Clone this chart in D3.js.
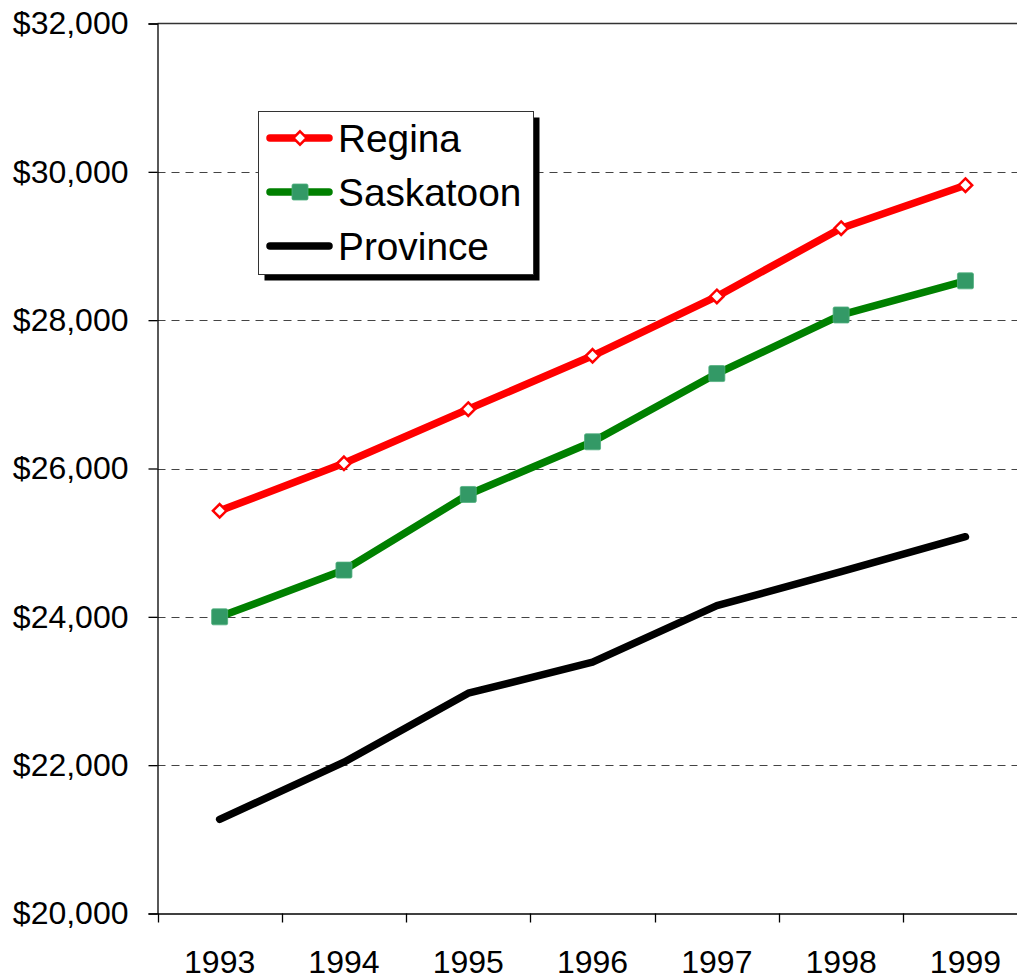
<!DOCTYPE html>
<html>
<head>
<meta charset="utf-8">
<script src="https://cdn.jsdelivr.net/npm/d3@7"></script>
<style>
  html, body { margin: 0; padding: 0; background: #fff; overflow: hidden; }
  svg { display: block; font-family: Arial, "Liberation Sans", sans-serif; }
</style>
</head>
<body>
<svg id="chart" width="1017" height="978"></svg>
<script>
const years = ["1993", "1994", "1995", "1996", "1997", "1998", "1999"];
const regina = [25430, 26070, 26800, 27520, 28320, 29240, 29820];
const saskatoon = [24000, 24630, 25650, 26360, 27280, 28070, 28530];
const province = [21270, 22040, 22970, 23390, 24150, 24610, 25080];
const yTicks = [20000, 22000, 24000, 26000, 28000, 30000, 32000];
const seriesNames = ["Regina", "Saskatoon", "Province"];

(function () {
const svg = d3.select("#chart");
const plotLeft = 157.5, plotBottom = 913.5, plotTop = 23.5, step = 124.3;
const x = d3.scaleBand().domain(years).range([plotLeft, plotLeft + step * years.length]).padding(0);
const y = d3.scaleLinear().domain([20000, 32000]).range([plotBottom, plotTop]);
const fmt = d => "$" + d3.format(",")(d);
const FONT = "Arial, 'Liberation Sans', sans-serif";

// gridlines
svg.append("g").selectAll("line").data(yTicks.filter(t => t > 20000 && t < 32000)).join("line")
  .attr("x1", plotLeft).attr("x2", 1017)
  .attr("y1", d => Math.round(y(d)) + 0.5).attr("y2", d => Math.round(y(d)) + 0.5)
  .attr("stroke", "#444").attr("stroke-width", 1).attr("stroke-dasharray", "8,6");
// top border line
svg.append("line").attr("x1", plotLeft).attr("x2", 1017).attr("y1", y(32000)).attr("y2", y(32000))
  .attr("stroke", "#333").attr("stroke-width", 1.5);

// y axis
const yAxis = svg.append("g").attr("transform", `translate(${plotLeft},0)`)
  .call(d3.axisLeft(y).tickValues(yTicks).tickFormat(fmt).tickSize(9).tickPadding(20));
yAxis.select(".domain").attr("stroke", "#000").attr("stroke-width", 1.3);
yAxis.selectAll(".tick line").attr("stroke", "#000").attr("stroke-width", 1.3);
yAxis.selectAll("text").attr("font-size", 32).attr("fill", "#000").attr("font-family", FONT);

// x axis
const xAxis = svg.append("g").attr("transform", `translate(0,${plotBottom})`)
  .call(d3.axisBottom(x).tickSize(0));
xAxis.select(".domain").attr("stroke", "#000").attr("stroke-width", 1.5);
xAxis.selectAll("text").attr("font-size", 32).attr("fill", "#000").attr("font-family", FONT)
  .attr("y", 59).attr("dy", 0);
svg.append("g").selectAll("line").data(years).join("line")
  .attr("x1", d => Math.round(x(d)) + 0.5).attr("x2", d => Math.round(x(d)) + 0.5)
  .attr("y1", plotBottom).attr("y2", plotBottom + 9)
  .attr("stroke", "#000").attr("stroke-width", 1.3);

const cx = d => x(d) + x.bandwidth() / 2;
const line = d3.line().x((d, i) => cx(years[i])).y(d => y(d));

svg.append("path").datum(province).attr("d", line)
  .attr("fill", "none").attr("stroke", "#000").attr("stroke-width", 7.5).attr("stroke-linecap", "round").attr("stroke-linejoin", "round");
svg.append("path").datum(saskatoon).attr("d", line)
  .attr("fill", "none").attr("stroke", "#008000").attr("stroke-width", 7.5).attr("stroke-linejoin", "round");
svg.append("path").datum(regina).attr("d", line)
  .attr("fill", "none").attr("stroke", "#ff0000").attr("stroke-width", 7.5).attr("stroke-linejoin", "round");

// markers
svg.append("g").selectAll("rect").data(saskatoon).join("rect")
  .attr("x", (d, i) => cx(years[i]) - 8).attr("y", d => y(d) - 8)
  .attr("width", 16).attr("height", 16).attr("rx", 1.5)
  .attr("fill", "#339966").attr("stroke", "#4fae7e").attr("stroke-width", 0.8);
const diamond = d3.symbol().type(d3.symbolDiamond2).size(115);
svg.append("g").selectAll("path").data(regina).join("path")
  .attr("d", diamond)
  .attr("transform", (d, i) => `translate(${cx(years[i])},${y(d)})`)
  .attr("fill", "#fff").attr("stroke", "#ff0000").attr("stroke-width", 2.5);

// legend
const lg = svg.append("g");
const lx = 258.5, ly = 111.5, lw = 275, lh = 163;
lg.append("rect").attr("x", lx + 6).attr("y", ly + 6).attr("width", lw).attr("height", lh).attr("fill", "#000");
lg.append("rect").attr("x", lx).attr("y", ly).attr("width", lw).attr("height", lh)
  .attr("fill", "#fff").attr("stroke", "#333").attr("stroke-width", 1);
const colors = ["#ff0000", "#008000", "#000"];
seriesNames.forEach((name, i) => {
  const yy = 138 + i * 54;
  lg.append("line").attr("x1", 270).attr("x2", 329).attr("y1", yy).attr("y2", yy)
    .attr("stroke", colors[i]).attr("stroke-width", 7.5).attr("stroke-linecap", "round");
  if (i === 0) {
    lg.append("path").attr("d", diamond).attr("transform", `translate(300,${yy})`)
      .attr("fill", "#fff").attr("stroke", "#ff0000").attr("stroke-width", 2.5);
  } else if (i === 1) {
    lg.append("rect").attr("x", 292).attr("y", yy - 8).attr("width", 16).attr("height", 16).attr("rx", 1.5)
      .attr("fill", "#339966").attr("stroke", "#4fae7e").attr("stroke-width", 0.8);
  }
  lg.append("text").attr("x", 338).attr("y", yy + 14).attr("font-size", 38.8).attr("fill", "#000")
    .attr("font-family", FONT).text(name);
});
})();
</script>
</body>
</html>
